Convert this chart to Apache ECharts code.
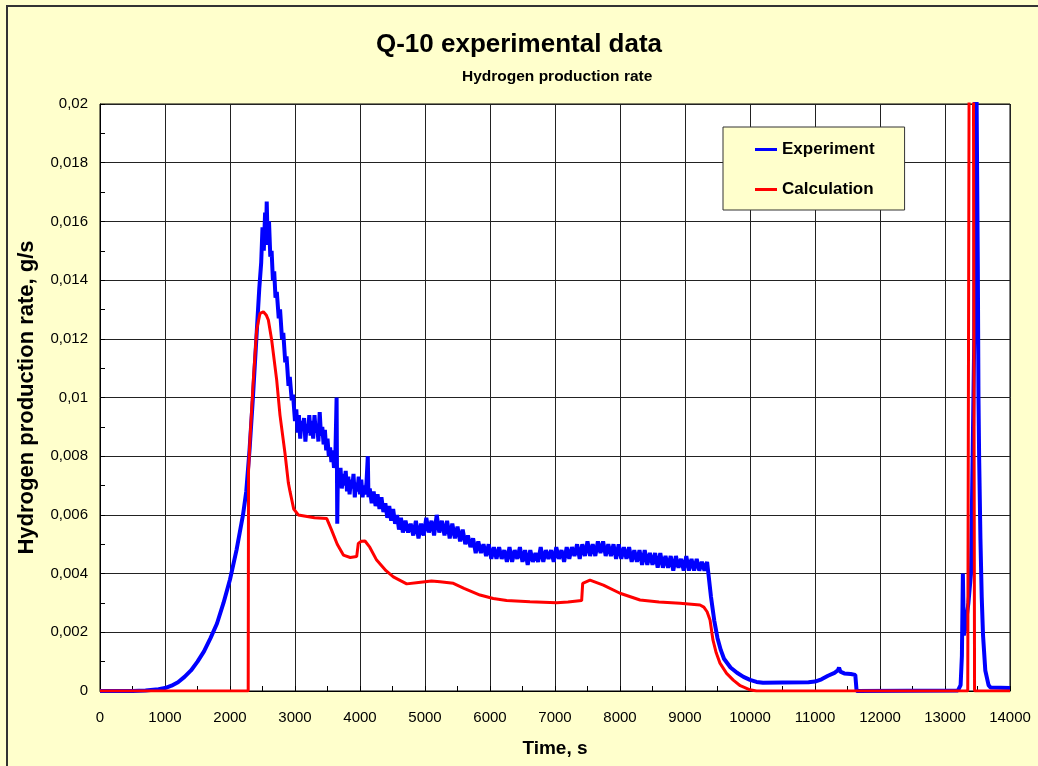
<!DOCTYPE html>
<html>
<head>
<meta charset="utf-8">
<script src="https://cdn.jsdelivr.net/npm/echarts@6/dist/echarts.min.js"></script>
<style>
  html, body { margin: 0; padding: 0; background: #FFFFCC; }
  #chart { width: 1038px; height: 766px; }
</style>
</head>
<body>
<div id="chart"></div>
<script>
// experiment (time s, rate g/s)
var expTime = [0, 500, 700, 900, 1000, 1100, 1200, 1300, 1400, 1500, 1600, 1700, 1800, 1900, 2000, 2100, 2200, 2250, 2300, 2350,
  2400, 2450, 2480, 2500, 2520, 2540, 2555, 2565, 2580, 2600, 2620, 2640, 2660, 2680, 2700, 2720, 2750, 2770, 2800, 2820,
  2850, 2870, 2900, 2920, 2950, 2970, 3000, 3020, 3040, 3060, 3080, 3100, 3120, 3140, 3160, 3180, 3200, 3220, 3240, 3260,
  3280, 3300, 3320, 3340, 3360, 3380, 3400, 3420, 3440, 3460, 3480, 3500, 3520, 3540, 3560, 3580, 3600, 3620, 3640, 3650,
  3660, 3680, 3700, 3720, 3740, 3760, 3780, 3800, 3820, 3840, 3860, 3880, 3900, 3920, 3940, 3960, 3980, 4000, 4020, 4040,
  4060, 4080, 4100, 4120, 4130, 4150, 4180, 4210, 4240, 4270, 4300, 4330, 4360, 4390, 4420, 4450, 4480, 4510, 4540, 4570,
  4600, 4630, 4660, 4700, 4740, 4780, 4820, 4860, 4900, 4940, 4980, 5020, 5060, 5100, 5140, 5180, 5220, 5260, 5300, 5340,
  5380, 5420, 5460, 5500, 5540, 5580, 5620, 5660, 5700, 5740, 5780, 5820, 5860, 5900, 5940, 5980, 6020, 6060, 6100, 6140,
  6180, 6220, 6260, 6300, 6340, 6380, 6420, 6460, 6500, 6540, 6580, 6620, 6660, 6700, 6740, 6780, 6820, 6860, 6900, 6940,
  6980, 7020, 7060, 7100, 7140, 7180, 7220, 7260, 7300, 7340, 7380, 7420, 7460, 7500, 7540, 7580, 7620, 7660, 7700, 7740,
  7780, 7820, 7860, 7900, 7940, 7980, 8020, 8060, 8100, 8140, 8180, 8220, 8260, 8300, 8340, 8380, 8420, 8460, 8500, 8540,
  8580, 8620, 8660, 8700, 8740, 8780, 8820, 8860, 8900, 8940, 8980, 9020, 9060, 9100, 9140, 9180, 9220, 9260, 9300, 9340,
  9360, 9400, 9450, 9500, 9550, 9600, 9700, 9800, 9900, 10000, 10100, 10200, 10500, 10900, 11000, 11100, 11200, 11300, 11350, 11370,
  11390, 11450, 11550, 11620, 11640, 11650, 13200, 13240, 13260, 13275, 13290, 13310, 13360, 13400, 13450, 13470, 13495, 13505, 13515, 13525,
  13545, 13565, 13585, 13620, 13670, 13700, 14000];
var expRate = [0, 0, 0.00002, 0.00006, 0.0001, 0.00018, 0.0003, 0.00048, 0.0007, 0.001, 0.00135, 0.0018, 0.0023, 0.003, 0.0038, 0.0048, 0.006, 0.0068, 0.0082, 0.0099,
  0.0118, 0.0137, 0.0146, 0.0158, 0.015, 0.0163, 0.0155, 0.01668, 0.0152, 0.016, 0.0148, 0.015, 0.014, 0.0143, 0.0134, 0.0136, 0.0127, 0.013, 0.012, 0.0122,
  0.0112, 0.0114, 0.0104, 0.0107, 0.0099, 0.0101, 0.0092, 0.0096, 0.0088, 0.0094, 0.0086, 0.0092, 0.0089, 0.0093, 0.0085, 0.0091, 0.0088, 0.0094, 0.0087, 0.0092,
  0.0086, 0.0094, 0.0088, 0.0091, 0.0085, 0.0095, 0.0087, 0.009, 0.0084, 0.0089, 0.0082, 0.0086, 0.008, 0.0083, 0.0078, 0.0082, 0.0076, 0.0079, 0.01, 0.0057,
  0.0075, 0.0071, 0.0076, 0.0069, 0.0074, 0.007, 0.0075, 0.0068, 0.0073, 0.0067, 0.0072, 0.0069, 0.0074, 0.0066, 0.0071, 0.0068, 0.0073, 0.0067, 0.0072, 0.0066,
  0.007, 0.0067, 0.0071, 0.008, 0.0066, 0.0069, 0.0064, 0.0068, 0.0063, 0.0067, 0.0062, 0.0066, 0.0061, 0.0064, 0.0059, 0.0063, 0.0058, 0.0062, 0.0057, 0.006,
  0.0055, 0.0059, 0.0054, 0.0058, 0.0054, 0.0057, 0.0053, 0.0058, 0.0052, 0.0057, 0.0053, 0.0059, 0.0054, 0.0058, 0.0053, 0.006, 0.0054, 0.0058, 0.0053, 0.0058,
  0.0052, 0.0057, 0.0052, 0.0056, 0.0051, 0.0055, 0.005, 0.0053, 0.0049, 0.0052, 0.0047, 0.0051, 0.0047, 0.005, 0.0046, 0.005, 0.0045, 0.0049, 0.0045, 0.0049,
  0.0045, 0.0048, 0.0044, 0.0049, 0.0044, 0.0048, 0.0045, 0.0049, 0.0044, 0.0048, 0.0043, 0.0048, 0.0044, 0.0047, 0.0044, 0.0049, 0.0044, 0.0048, 0.0045, 0.0048,
  0.0044, 0.0049, 0.0045, 0.0048, 0.0044, 0.0049, 0.0045, 0.0049, 0.0046, 0.005, 0.0045, 0.005, 0.0046, 0.0051, 0.0046, 0.005, 0.0046, 0.0051, 0.0047, 0.0051,
  0.0046, 0.005, 0.0046, 0.005, 0.0045, 0.005, 0.0045, 0.0049, 0.0045, 0.0049, 0.0044, 0.0048, 0.0044, 0.0048, 0.0043, 0.0048, 0.0043, 0.0047, 0.0043, 0.0047,
  0.0042, 0.0047, 0.0042, 0.0046, 0.0042, 0.0046, 0.0041, 0.0046, 0.0042, 0.0045, 0.0041, 0.0046, 0.0041, 0.0045, 0.0041, 0.0045, 0.0041, 0.0044, 0.0041, 0.0044,
  0.004, 0.0032, 0.0024, 0.0018, 0.0014, 0.0011, 0.0008, 0.00062, 0.00048, 0.00038, 0.00031, 0.00028, 0.00029, 0.0003, 0.00032, 0.0004, 0.00052, 0.00062, 0.0007, 0.0008,
  0.00066, 0.0006, 0.00058, 0.00055, 0, 0.00002, 0.00002, 0.0002, 0.0012, 0.004, 0.0019, 0.0021, 0.003, 0.004, 0.012, 0.025, 0.025, 0.0144, 0.01, 0.008,
  0.0052, 0.0032, 0.0019, 0.0007, 0.0002, 0.00012, 0.0001];

// calculation
var calcTime = [0, 2280, 2285, 2308, 2359, 2410, 2462, 2513, 2560, 2590, 2641, 2718, 2769, 2846, 2897, 2923, 2980, 3051, 3077, 3300,
  3487, 3560, 3650, 3744, 3850, 3949, 3974, 4020, 4077, 4150, 4256, 4400, 4513, 4718, 4900, 5100, 5231, 5436, 5600, 5846,
  6050, 6256, 6615, 7026, 7200, 7410, 7426, 7538, 7744, 8000, 8308, 8600, 8923, 9231, 9290, 9340, 9385, 9430, 9480, 9538,
  9640, 9743, 9850, 10000, 10100, 13350, 13380, 13430, 13455, 14000];
var calcRate = [0, 0, 0.0075, 0.0086, 0.0106, 0.0123, 0.01287, 0.01292, 0.0128, 0.01264, 0.01196, 0.0106, 0.0094, 0.0081, 0.0071, 0.0068, 0.0062, 0.006, 0.00594, 0.0059,
  0.00588, 0.0055, 0.005, 0.00463, 0.00455, 0.00458, 0.00503, 0.0051, 0.00511, 0.0049, 0.00446, 0.0041, 0.00389, 0.00365, 0.0037, 0.00375, 0.00372, 0.00367, 0.0035, 0.00327,
  0.00315, 0.00308, 0.00304, 0.00301, 0.00303, 0.00308, 0.00367, 0.00378, 0.00361, 0.00333, 0.0031, 0.00303, 0.00299, 0.00293, 0.00286, 0.0027, 0.00242, 0.00174, 0.0013, 0.00095,
  0.0006, 0.00037, 0.00018, 0.00004, 0, 0, 0.03, 0.03, 0, 0];

var seriesNames = ['Experiment', 'Calculation'];

function pairs(xs, ys) {
  return xs.map(function (x, i) { return [x, ys[i]]; });
}

var font = 'Liberation Sans, Arial, sans-serif';
var chart = echarts.init(document.getElementById('chart'));

chart.setOption({
  backgroundColor: '#FFFFCC',
  animation: false,
  textStyle: { fontFamily: font, color: '#000' },
  title: [{
    text: 'Q-10 experimental data',
    left: 'center',
    top: 27,
    textStyle: { fontFamily: font, fontSize: 26, fontWeight: 'bold', color: '#000' }
  }, {
    text: 'Hydrogen production rate',
    left: 462,
    top: 69,
    padding: 0,
    textStyle: { fontFamily: font, fontSize: 15.5, fontWeight: 'bold', color: '#000' }
  }],
  legend: {
    left: 723,
    top: 127,
    orient: 'vertical',
    backgroundColor: '#FFFFCC',
    borderColor: '#333',
    borderWidth: 1,
    padding: [14, 30, 12, 32],
    itemGap: 23,
    icon: 'rect',
    itemWidth: 22,
    itemHeight: 3,
    textStyle: { fontFamily: font, fontSize: 17, fontWeight: 'bold', color: '#000' },
    data: seriesNames
  },
  graphic: [{
    type: 'rect',
    shape: { x: 7, y: 6, width: 1060, height: 800 },
    style: { fill: 'none', stroke: '#333', lineWidth: 2 },
    silent: true
  }],
  grid: {
    left: 100, right: 28, top: 104, bottom: 75,
    show: true, backgroundColor: '#fff', borderColor: '#000', borderWidth: 1
  },
  xAxis: {
    type: 'value',
    min: 0, max: 14000, interval: 1000,
    name: 'Time, s',
    nameLocation: 'middle',
    nameGap: 48,
    nameTextStyle: { fontFamily: font, fontSize: 19, fontWeight: 'bold', color: '#000' },
    axisLine: { lineStyle: { color: '#000' } },
    axisTick: { show: true, inside: true, length: 5, lineStyle: { color: '#000' } },
    minorTick: { show: true, splitNumber: 2, length: 5, lineStyle: { color: '#000' } },
    axisLabel: { fontSize: 15, color: '#000', margin: 19, formatter: function (v) { return String(v); } },
    splitLine: { lineStyle: { color: '#222', width: 1 } }
  },
  yAxis: {
    type: 'value',
    min: 0, max: 0.02, interval: 0.002,
    name: 'Hydrogen production rate, g/s',
    nameLocation: 'middle',
    nameGap: 62,
    nameTextStyle: { fontFamily: font, fontSize: 22, fontWeight: 'bold', color: '#000' },
    axisLine: { show: true, lineStyle: { color: '#000' } },
    axisTick: { show: true, inside: true, length: 5, lineStyle: { color: '#000' } },
    minorTick: { show: true, splitNumber: 2, length: 5, lineStyle: { color: '#000' } },
    axisLabel: {
      fontSize: 15, color: '#000', margin: 12,
      formatter: function (v) { return v === 0 ? '0' : String(+v.toFixed(3)).replace('.', ','); }
    },
    splitLine: { lineStyle: { color: '#222', width: 1 } }
  },
  series: [{
    name: seriesNames[0],
    type: 'line',
    showSymbol: false,
    clip: true,
    color: '#0000FF',
    lineStyle: { color: '#0000FF', width: 4 },
    data: pairs(expTime, expRate)
  }, {
    name: seriesNames[1],
    type: 'line',
    showSymbol: false,
    clip: true,
    color: '#FF0000',
    lineStyle: { color: '#FF0000', width: 3 },
    data: pairs(calcTime, calcRate)
  }]
});
</script>
</body>
</html>
